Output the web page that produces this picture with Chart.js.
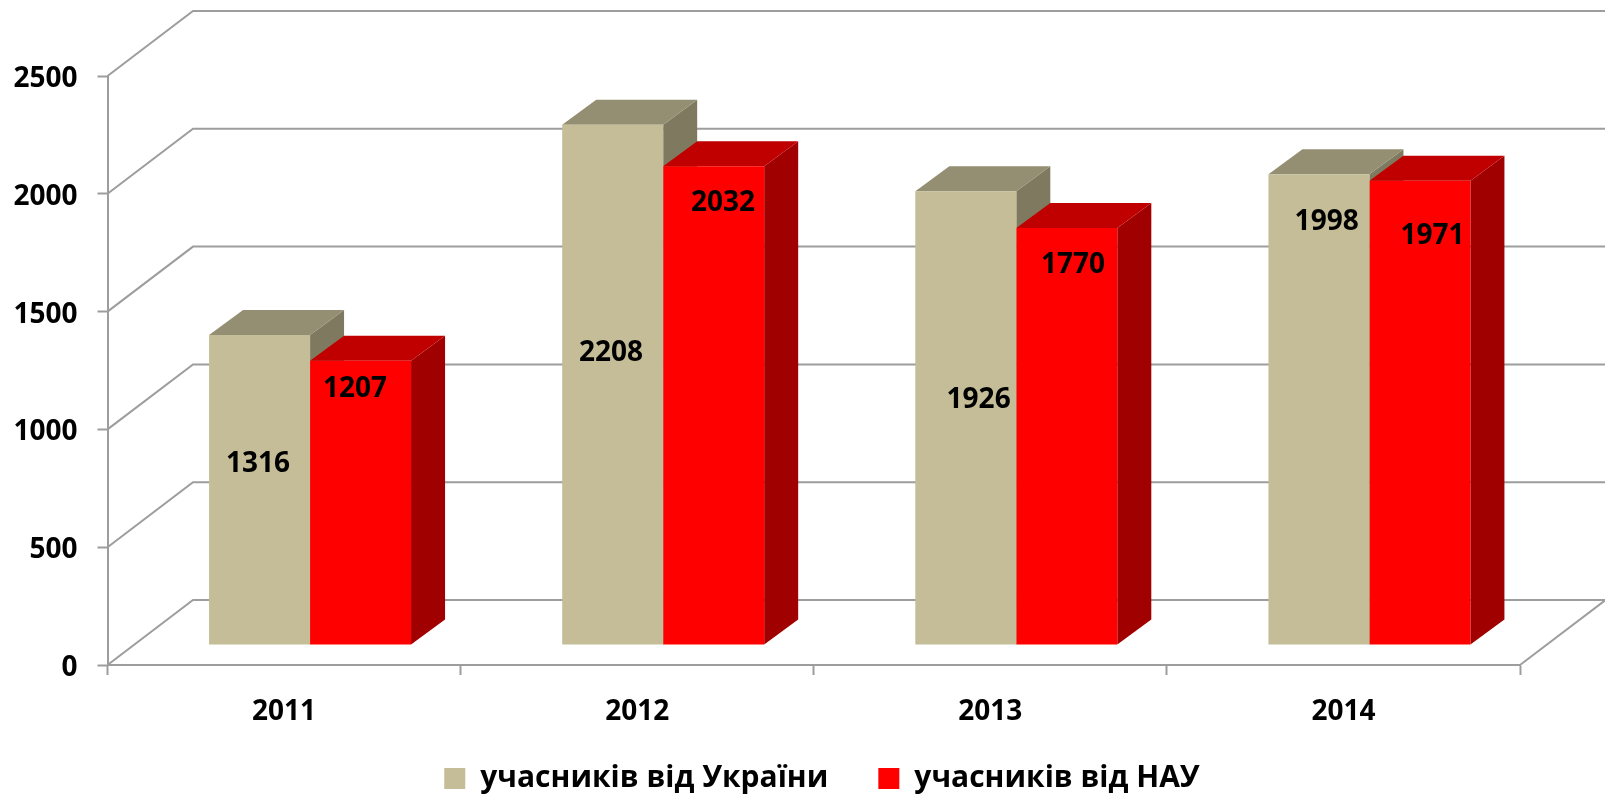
<!DOCTYPE html>
<html>
<head>
<meta charset="utf-8">
<style>html,body{margin:0;padding:0;background:#fff}canvas{display:block}</style>
<script src="https://cdn.jsdelivr.net/npm/chart.js@4"></script>
</head>
<body>
<canvas id="c" width="1605" height="794"></canvas>
<script>
const categories = ['2011', '2012', '2013', '2014'];
const seriesNames = ['учасників від України', 'учасників від НАУ'];
const ukraineValues = [1316, 2208, 1926, 1998];
const nauValues = [1207, 2032, 1770, 1971];
const yTicksMax = 2500;
const yTickStep = 500;

const FONT = '"Open Sans", sans-serif';
const GRID = '#9d9d9d';
const WALL = {dx: 85.5, dy: -65};
const PLANE = {dx: 26, dy: -20};
const DEPTH = {dx: 34, dy: -25};
const LEGEND_GAP = 50;
const faces = [
  {front: '#C4BD97', top: '#948F72', side: '#7F7A5F'},
  {front: '#FF0000', top: '#C00000', side: '#A00000'}
];
// Hand-placed data label offsets from each bar's top-centre: [dx, dy]
const labelOffsets = [
  [[-1.6, 129.5], [-1.7, 228], [12.8, 209], [7.7, 48]],
  [[-5.6, 28.4], [9.3, 36.5], [6.2, 37], [12.6, 55.6]]
];

function poly(ctx, pts, fill) {
  ctx.beginPath();
  pts.forEach((p, i) => i ? ctx.lineTo(p[0], p[1]) : ctx.moveTo(p[0], p[1]));
  ctx.closePath();
  ctx.fillStyle = fill;
  ctx.fill();
}

const scene3d = {
  id: 'scene3d',
  beforeLayout(chart) {
    const lg = chart.legend;
    if (lg && !lg._fitWrapped) {
      const fit = lg.fit;
      lg.fit = function () { fit.call(this); this.height = 40; };
      lg._fitWrapped = true;
    }
  },
  afterLayout(chart) {
    const lg = chart.legend;
    lg.left += 62;
    lg.right += 62;
    lg.top = 763.5 - LEGEND_GAP;
  },
  beforeDraw(chart) {
    chart.scales.y.getLabelItems().forEach(it => {
      if (!it._nudged) { it.options.translation[1] += 3; it._nudged = true; }
    });
  },
  beforeDatasetsDraw(chart) {
    const ctx = chart.ctx, y = chart.scales.y, a = chart.chartArea;
    ctx.save();
    ctx.strokeStyle = GRID;
    ctx.lineWidth = 2;
    y.ticks.forEach(t => {
      const py = y.getPixelForValue(t.value);
      ctx.beginPath();
      ctx.moveTo(a.left, py);
      ctx.lineTo(a.left + WALL.dx, py + WALL.dy);
      ctx.lineTo(a.right + WALL.dx, py + WALL.dy);
      ctx.stroke();
    });
    const y0 = y.getPixelForValue(0);
    ctx.beginPath();
    ctx.moveTo(a.right, y0);
    ctx.lineTo(a.right + WALL.dx, y0 + WALL.dy);
    ctx.stroke();
    ctx.restore();

    ctx.save();
    ctx.translate(PLANE.dx, PLANE.dy);
    chart.data.datasets.forEach((ds, di) => {
      chart.getDatasetMeta(di).data.forEach(b => {
        const l = b.x - b.width / 2, r = b.x + b.width / 2;
        poly(ctx, [[r, b.base], [r + DEPTH.dx, b.base + DEPTH.dy], [r + DEPTH.dx, b.y + DEPTH.dy], [r, b.y]], faces[di].side);
        poly(ctx, [[l, b.y], [l + DEPTH.dx, b.y + DEPTH.dy], [r + DEPTH.dx, b.y + DEPTH.dy], [r, b.y]], faces[di].top);
      });
    });
  },
  afterDatasetsDraw(chart) {
    const ctx = chart.ctx;
    ctx.fillStyle = '#000';
    ctx.font = '700 28px ' + FONT;
    ctx.textAlign = 'center';
    ctx.textBaseline = 'middle';
    chart.data.datasets.forEach((ds, di) => {
      chart.getDatasetMeta(di).data.forEach((b, i) => {
        const o = labelOffsets[di][i];
        ctx.fillText(String(ds.data[i]), b.x + o[0], b.y + o[1]);
      });
    });
    ctx.restore();
  }
};

new Chart(document.getElementById('c'), {
  type: 'bar',
  plugins: [scene3d],
  data: {
    labels: categories,
    datasets: [
      {label: seriesNames[0], data: ukraineValues, backgroundColor: faces[0].front, borderWidth: 0, clip: false},
      {label: seriesNames[1], data: nauValues, backgroundColor: faces[1].front, borderWidth: 0, clip: false}
    ]
  },
  options: {
    responsive: false,
    animation: false,
    layout: {padding: {top: 76, right: 85, left: 0, bottom: 0}},
    categoryPercentage: 0.572,
    barPercentage: 1,
    plugins: {
      tooltip: {enabled: false},
      title: {display: false},
      legend: {
        position: 'bottom',
        labels: {
          boxWidth: 21, boxHeight: 21, padding: LEGEND_GAP,
          color: '#000',
          font: {family: FONT, size: 30, weight: '700'},
          generateLabels(chart) {
            return chart.data.datasets.map((d, i) => ({
              text: d.label, fillStyle: d.backgroundColor, lineWidth: 0, strokeStyle: 'transparent', datasetIndex: i
            }));
          }
        }
      }
    },
    scales: {
      x: {
        afterFit(s) { s.height = 89; },
        grid: {drawOnChartArea: false, drawTicks: true, tickLength: 10, tickColor: GRID, tickWidth: 2, offset: true},
        border: {color: GRID, width: 2},
        ticks: {color: '#000', font: {family: FONT, size: 28, weight: '700'}, padding: 20, maxRotation: 0}
      },
      y: {
        min: 0, max: yTicksMax,
        afterFit(s) { s.width = 107.5; },
        grid: {drawOnChartArea: false, drawTicks: true, tickLength: 10, tickColor: GRID, tickWidth: 2},
        border: {color: GRID, width: 2},
        ticks: {color: '#000', stepSize: yTickStep, font: {family: FONT, size: 28, weight: '700'}, padding: 20, callback: v => String(v)}
      }
    }
  }
});
</script>
</body>
</html>
